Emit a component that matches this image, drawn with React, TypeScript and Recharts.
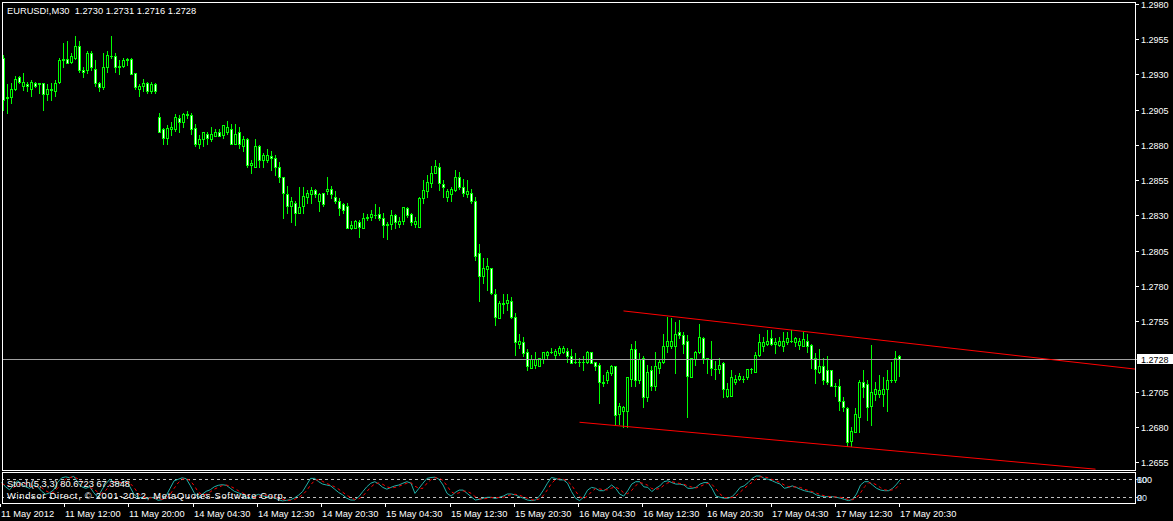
import React from "react";
import { ComposedChart, Bar, Line, XAxis, YAxis, ReferenceLine } from "recharts";

// EURUSD M30 candles, oldest first
const opens = [
  1.2942, 1.2913, 1.2914, 1.292, 1.2928, 1.2922, 1.2923, 1.292, 1.2924, 1.2923, 1.2924, 1.2916, 1.292, 1.2918, 1.2925,
  1.294, 1.2941, 1.2939, 1.2942, 1.295, 1.2933, 1.2933, 1.2945, 1.2934, 1.2924, 1.2921, 1.2935, 1.2943, 1.2943, 1.2935,
  1.2936, 1.294, 1.2941, 1.2931, 1.292, 1.2922, 1.2924, 1.2918, 1.2923, 1.29, 1.2891, 1.2885, 1.2891, 1.2891, 1.2899,
  1.2896, 1.2902, 1.2901, 1.2892, 1.2881, 1.2884, 1.2888, 1.2884, 1.2886, 1.2889, 1.2887, 1.2889, 1.2891, 1.2881, 1.2889,
  1.2879, 1.2884, 1.2866, 1.2864, 1.2879, 1.2869, 1.2869, 1.2872, 1.2871, 1.2864, 1.2857, 1.2845, 1.2837, 1.2839, 1.2832,
  1.2837, 1.2843, 1.2845, 1.2848, 1.284, 1.2846, 1.2847, 1.2849, 1.2843, 1.284, 1.2838, 1.2837, 1.2821, 1.2821, 1.2825,
  1.2821, 1.2828, 1.2829, 1.283, 1.2831, 1.2828, 1.2823, 1.2824, 1.283, 1.2824, 1.2826, 1.2835, 1.2831, 1.2824, 1.2822,
  1.2842, 1.2847, 1.2853, 1.286, 1.2864, 1.2852, 1.2843, 1.2845, 1.2848, 1.2857, 1.285, 1.2845, 1.2846, 1.284, 1.2803,
  1.2787, 1.2792, 1.2793, 1.2774, 1.2757, 1.2767, 1.2768, 1.2769, 1.2758, 1.2739, 1.274, 1.2733, 1.2722, 1.2724, 1.2723,
  1.2728, 1.2731, 1.2733, 1.2731, 1.2732, 1.2733, 1.2734, 1.273, 1.2726, 1.2726, 1.2726, 1.2726, 1.2733, 1.2726, 1.2724,
  1.2712, 1.2713, 1.2718, 1.2723, 1.2689, 1.2691, 1.2691, 1.2714, 1.2735, 1.2713, 1.2729, 1.2701, 1.272, 1.2709, 1.2722,
  1.2726, 1.2737, 1.2737, 1.2737, 1.2747, 1.2745, 1.2741, 1.2715, 1.2728, 1.2733, 1.2743, 1.2729, 1.2728, 1.2721, 1.2721,
  1.2725, 1.2702, 1.2702, 1.2712, 1.2714, 1.2714, 1.2715, 1.2721, 1.2719, 1.2731, 1.2737, 1.2739, 1.2743, 1.2739, 1.2738,
  1.2737, 1.274, 1.2741, 1.274, 1.2738, 1.2737, 1.2741, 1.2738, 1.2729, 1.2719, 1.2723, 1.272, 1.272, 1.2709, 1.2709,
  1.2698, 1.2693, 1.267, 1.2676, 1.2687, 1.2712, 1.271, 1.2695, 1.2703, 1.2703, 1.2703, 1.2707, 1.2713, 1.2713, 1.273,
];
const highs = [
  1.2944, 1.2923, 1.2924, 1.2929, 1.2929, 1.2931, 1.2925, 1.2926, 1.2925, 1.2924, 1.2924, 1.2923, 1.2924, 1.2926, 1.2942,
  1.2952, 1.2954, 1.2945, 1.2957, 1.2954, 1.2935, 1.2947, 1.2947, 1.294, 1.2925, 1.2945, 1.2947, 1.2957, 1.2945, 1.294,
  1.2942, 1.2942, 1.2942, 1.2931, 1.2923, 1.2927, 1.2925, 1.2925, 1.2924, 1.2903, 1.2892, 1.2894, 1.2896, 1.2902, 1.2901,
  1.2903, 1.2904, 1.2903, 1.2895, 1.2887, 1.2889, 1.2889, 1.2893, 1.2891, 1.2891, 1.2894, 1.2897, 1.2895, 1.2895, 1.2893,
  1.2886, 1.2885, 1.2869, 1.2884, 1.288, 1.2874, 1.2877, 1.2876, 1.2873, 1.2868, 1.2857, 1.2851, 1.2843, 1.284, 1.285,
  1.285, 1.2848, 1.285, 1.2849, 1.2846, 1.2846, 1.2857, 1.2851, 1.2847, 1.2842, 1.2839, 1.2839, 1.2826, 1.2827, 1.2827,
  1.2832, 1.2831, 1.2834, 1.2838, 1.2836, 1.2832, 1.2825, 1.2834, 1.2831, 1.2829, 1.2836, 1.2836, 1.2832, 1.2829, 1.2843,
  1.2855, 1.2859, 1.2865, 1.2869, 1.2867, 1.2855, 1.2849, 1.285, 1.2862, 1.2861, 1.2856, 1.2855, 1.2849, 1.2843, 1.281,
  1.28, 1.28, 1.2793, 1.2778, 1.2769, 1.2774, 1.2774, 1.2772, 1.2761, 1.2746, 1.2744, 1.2735, 1.2731, 1.2733, 1.2729,
  1.2733, 1.2734, 1.2736, 1.2735, 1.2737, 1.2737, 1.2736, 1.2735, 1.2732, 1.2729, 1.273, 1.2734, 1.2733, 1.2726, 1.2725,
  1.2717, 1.272, 1.2724, 1.2723, 1.2697, 1.2695, 1.2715, 1.2739, 1.2741, 1.2732, 1.273, 1.2724, 1.2723, 1.2733, 1.2728,
  1.2746, 1.2758, 1.2757, 1.2754, 1.2756, 1.2747, 1.2745, 1.2729, 1.2734, 1.2753, 1.2744, 1.2729, 1.2741, 1.2727, 1.2729,
  1.2726, 1.2711, 1.272, 1.2717, 1.2718, 1.2716, 1.2721, 1.2722, 1.2733, 1.2746, 1.2744, 1.2749, 1.2749, 1.2743, 1.2744,
  1.2747, 1.2747, 1.2749, 1.2744, 1.2743, 1.2747, 1.2746, 1.2739, 1.2732, 1.2735, 1.2729, 1.273, 1.272, 1.2711, 1.2714,
  1.2701, 1.2694, 1.268, 1.2693, 1.2713, 1.272, 1.2713, 1.2738, 1.2712, 1.2717, 1.2715, 1.272, 1.2726, 1.2734, 1.2731,
];
const lows = [
  1.2905, 1.2903, 1.291, 1.2919, 1.2924, 1.2919, 1.2918, 1.2915, 1.2921, 1.2917, 1.2905, 1.2912, 1.2912, 1.2915, 1.2924,
  1.2935, 1.2938, 1.2938, 1.2941, 1.2932, 1.2928, 1.2931, 1.2933, 1.2922, 1.2918, 1.292, 1.2932, 1.2942, 1.2932, 1.293,
  1.2935, 1.2937, 1.293, 1.292, 1.2915, 1.2918, 1.2917, 1.2917, 1.2917, 1.2889, 1.2881, 1.2881, 1.2887, 1.289, 1.2889,
  1.2893, 1.2899, 1.2888, 1.2879, 1.2878, 1.2879, 1.2881, 1.2883, 1.2886, 1.2886, 1.2885, 1.2888, 1.2881, 1.2881, 1.2878,
  1.2876, 1.2864, 1.286, 1.2864, 1.2864, 1.2864, 1.2868, 1.2862, 1.2859, 1.2854, 1.2828, 1.2832, 1.2825, 1.2823, 1.2832,
  1.2832, 1.2839, 1.2839, 1.2843, 1.2833, 1.2837, 1.2845, 1.2842, 1.2839, 1.283, 1.2832, 1.2821, 1.282, 1.2821, 1.2815,
  1.2821, 1.2827, 1.2827, 1.2828, 1.2827, 1.2815, 1.2813, 1.282, 1.2821, 1.2822, 1.2824, 1.2829, 1.2823, 1.2822, 1.2822,
  1.2839, 1.2843, 1.285, 1.286, 1.2848, 1.2843, 1.284, 1.284, 1.2847, 1.2849, 1.2844, 1.2843, 1.2839, 1.2798, 1.2769,
  1.2782, 1.2777, 1.2774, 1.2752, 1.2757, 1.2761, 1.2763, 1.2757, 1.2731, 1.2736, 1.273, 1.272, 1.2722, 1.2722, 1.2723,
  1.2725, 1.2729, 1.2732, 1.2729, 1.2731, 1.2732, 1.2726, 1.2725, 1.2725, 1.2723, 1.272, 1.2725, 1.2725, 1.272, 1.2697,
  1.2709, 1.2711, 1.2717, 1.2681, 1.2682, 1.268, 1.268, 1.2709, 1.2709, 1.2711, 1.2694, 1.2698, 1.2706, 1.2706, 1.2718,
  1.2725, 1.2733, 1.2736, 1.2718, 1.2743, 1.2732, 1.2687, 1.2715, 1.2724, 1.2732, 1.2725, 1.2718, 1.2717, 1.2714, 1.2718,
  1.2701, 1.2701, 1.2702, 1.271, 1.2713, 1.2712, 1.2714, 1.2718, 1.2719, 1.273, 1.2734, 1.2738, 1.2738, 1.2732, 1.2737,
  1.2734, 1.2739, 1.274, 1.2737, 1.2735, 1.2737, 1.2733, 1.2722, 1.2711, 1.2718, 1.271, 1.271, 1.2709, 1.2702, 1.2692,
  1.2691, 1.2666, 1.2666, 1.2676, 1.2676, 1.2701, 1.2685, 1.2681, 1.2699, 1.2701, 1.2695, 1.2691, 1.2712, 1.2712, 1.2716,
];
const closes = [
  1.2912, 1.2914, 1.292, 1.2927, 1.2925, 1.2925, 1.2922, 1.2925, 1.2922, 1.2924, 1.2916, 1.292, 1.2919, 1.2924, 1.294,
  1.2941, 1.2938, 1.2943, 1.295, 1.2933, 1.2932, 1.2945, 1.2935, 1.2924, 1.2921, 1.2935, 1.2944, 1.2943, 1.2935, 1.2936,
  1.294, 1.2941, 1.293, 1.2921, 1.2922, 1.2924, 1.2918, 1.2923, 1.2918, 1.2889, 1.2885, 1.2892, 1.2893, 1.29, 1.2896,
  1.2902, 1.2901, 1.2891, 1.2881, 1.2884, 1.2889, 1.2885, 1.2888, 1.2889, 1.2886, 1.2894, 1.2893, 1.2881, 1.2888, 1.2881,
  1.2884, 1.2866, 1.2867, 1.2879, 1.2869, 1.2873, 1.2873, 1.2871, 1.2864, 1.2857, 1.2846, 1.2837, 1.284, 1.2832, 1.2836,
  1.2844, 1.2846, 1.2848, 1.2845, 1.2845, 1.2838, 1.2849, 1.2845, 1.284, 1.2835, 1.2834, 1.2821, 1.2823, 1.2826, 1.2822,
  1.2828, 1.2829, 1.2831, 1.283, 1.2828, 1.2823, 1.2824, 1.283, 1.2825, 1.2826, 1.2836, 1.283, 1.2825, 1.2826, 1.2842,
  1.2848, 1.2854, 1.286, 1.2865, 1.2853, 1.285, 1.2847, 1.2849, 1.2857, 1.285, 1.2846, 1.2847, 1.284, 1.2801, 1.2787,
  1.2793, 1.2794, 1.2775, 1.2758, 1.2768, 1.2768, 1.277, 1.2758, 1.274, 1.2741, 1.2732, 1.2723, 1.2728, 1.2728, 1.2729,
  1.2733, 1.2733, 1.2733, 1.2734, 1.2736, 1.2736, 1.273, 1.2725, 1.2726, 1.2726, 1.2726, 1.2733, 1.2725, 1.2723, 1.2712,
  1.2711, 1.2719, 1.2723, 1.2688, 1.2695, 1.2694, 1.2715, 1.2735, 1.2713, 1.2728, 1.2701, 1.2719, 1.2709, 1.2723, 1.2726,
  1.2737, 1.2741, 1.2741, 1.2746, 1.2745, 1.2739, 1.2716, 1.2729, 1.2733, 1.2744, 1.2729, 1.2728, 1.2722, 1.2721, 1.2724,
  1.2707, 1.2707, 1.2715, 1.2714, 1.2716, 1.2714, 1.2721, 1.2721, 1.2731, 1.274, 1.274, 1.2741, 1.2739, 1.274, 1.2741,
  1.2741, 1.2743, 1.2741, 1.2743, 1.2741, 1.2742, 1.2737, 1.2728, 1.2721, 1.2723, 1.2713, 1.2712, 1.2709, 1.2709, 1.2698,
  1.2694, 1.2669, 1.2677, 1.2689, 1.2712, 1.2708, 1.2694, 1.2705, 1.2707, 1.2706, 1.2707, 1.2713, 1.2713, 1.2729, 1.2728,
];

// Stochastic(5,3,3): main (%K) and signal (%D)
const stochMain = [
  70, 55, 45, 60, 75, 65, 55, 50, 60, 55, 40, 30, 35, 45, 70,
  85, 88, 85, 90, 70, 55, 50, 55, 35, 20, 45, 65, 80, 70, 65,
  70, 75, 55, 30, 18, 20, 15, 20, 18, 10, 12, 25, 50, 75, 80,
  85, 82, 60, 35, 20, 30, 40, 45, 55, 60, 62, 60, 50, 40, 35,
  30, 20, 15, 25, 30, 25, 22, 20, 18, 12, 8, 10, 12, 18, 27,
  39, 61, 83, 83, 72, 64, 61, 58, 47, 36, 28, 17, 11, 11, 22,
  39, 55, 67, 72, 64, 53, 47, 53, 58, 61, 67, 72, 67, 33, 50,
  67, 83, 86, 87, 80, 61, 33, 24, 36, 44, 44, 33, 22, 11, 13,
  17, 20, 20, 16, 20, 24, 31, 31, 28, 22, 17, 11, 9, 11, 24,
  44, 67, 86, 83, 78, 78, 67, 39, 17, 9, 20, 44, 53, 50, 42,
  42, 50, 61, 50, 31, 24, 42, 64, 72, 72, 55, 53, 39, 50, 58,
  72, 75, 69, 64, 64, 61, 50, 50, 53, 64, 69, 69, 50, 24, 20,
  17, 17, 22, 36, 53, 58, 69, 83, 91, 91, 83, 80, 75, 69, 64,
  50, 53, 58, 53, 47, 42, 39, 36, 28, 24, 22, 22, 22, 20, 17,
  13, 9, 13, 31, 61, 72, 72, 61, 50, 44, 42, 42, 50, 64, 80.67,
];
const stochSignal = [
  65, 62, 57, 53, 60, 67, 65, 57, 55, 55, 52, 42, 35, 37, 50,
  67, 81, 86, 88, 82, 72, 58, 53, 47, 37, 33, 43, 63, 72, 72,
  68, 70, 67, 53, 34, 23, 18, 18, 18, 16, 13, 16, 29, 50, 68,
  80, 82, 76, 59, 38, 28, 30, 38, 47, 53, 59, 61, 57, 50, 42,
  35, 28, 22, 20, 23, 27, 26, 22, 20, 17, 13, 10, 10, 13, 19,
  28, 42, 61, 76, 79, 73, 66, 61, 55, 47, 37, 27, 19, 13, 15,
  24, 39, 54, 65, 68, 63, 55, 51, 53, 57, 62, 67, 69, 57, 50,
  50, 67, 79, 85, 84, 76, 58, 39, 31, 35, 41, 40, 33, 22, 15,
  14, 17, 19, 19, 19, 20, 25, 29, 30, 27, 22, 17, 12, 10, 15,
  26, 45, 66, 79, 82, 80, 74, 61, 41, 22, 15, 24, 39, 49, 48,
  45, 45, 51, 54, 47, 35, 32, 43, 59, 69, 66, 60, 49, 47, 49,
  60, 68, 72, 69, 66, 63, 58, 54, 51, 56, 62, 67, 63, 48, 31,
  20, 18, 19, 25, 37, 49, 60, 70, 81, 88, 88, 85, 79, 75, 69,
  61, 56, 54, 55, 53, 47, 43, 39, 34, 29, 25, 23, 22, 21, 20,
  17, 13, 12, 18, 35, 55, 68, 68, 61, 52, 45, 43, 45, 52, 67.38,
];

const priceTicks = [
  1.298, 1.2955, 1.293, 1.2905, 1.288, 1.2855, 1.283, 1.2805, 1.278, 1.2755, 1.2728, 1.2705, 1.268, 1.2655,
];
const lastPrice = 1.2728;

const timeTickIdx = [0, 16, 32, 48, 64, 80, 96, 112, 128, 144, 160, 176, 192, 208, 224];
const timeLabels = [
  "11 May 2012", "11 May 12:00", "11 May 20:00", "14 May 04:30", "14 May 12:30",
  "14 May 20:30", "15 May 04:30", "15 May 12:30", "15 May 20:30", "16 May 04:30",
  "16 May 12:30", "16 May 20:30", "17 May 04:30", "17 May 12:30", "17 May 20:30",
];

// hand drawn channel (bar index, price)
const upperChannel = [{ x: 155, y: 1.27622 }, { x: 283, y: 1.27209 }];
const lowerChannel = [{ x: 144, y: 1.26832 }, { x: 273, y: 1.26499 }];

const stochLevels = [80, 20];
const stochBounds = ["100", "0"];

const headerText = "EURUSD!,M30  1.2730 1.2731 1.2716 1.2728";
const stochText = "Stoch(5,3,3) 80.6723 67.3848";
const copyrightText = "Windsor Direct, \u00a9 2001-2012, MetaQuotes Software Corp.";

const SLOTS = 284; // chart shift leaves empty bars on the right
const PRICE_MIN = 1.264932;
const PRICE_MAX = 1.298284;
const FONT = "'Liberation Sans', Arial, sans-serif";
const LIME = "#00ff00";

const rows = Array.from({ length: SLOTS }, (_, i) =>
  i < closes.length
    ? {
        i,
        range: [lows[i], highs[i]],
        o: opens[i],
        h: highs[i],
        l: lows[i],
        c: closes[i],
        k: stochMain[i],
        d: stochSignal[i],
      }
    : { i, range: null, k: null, d: null }
);

function Candle(props: any) {
  const { x, y, width, height, payload } = props;
  if (!payload || payload.h == null) return <g />;
  const top = Math.min(y, y + height);
  const bot = Math.max(y, y + height);
  const span = payload.h - payload.l;
  const at = (p: number) => (span > 0 ? top + ((payload.h - p) / span) * (bot - top) : top);
  const cx = Math.floor(x + width / 2);
  const yH = Math.round(top);
  const yL = Math.round(bot);
  const yO = Math.round(at(payload.o));
  const yC = Math.round(at(payload.c));
  const bTop = Math.min(yO, yC);
  const bBot = Math.max(yO, yC);
  const up = payload.c >= payload.o;
  return (
    <g shapeRendering="crispEdges">
      <rect x={cx} y={yH} width={1} height={Math.max(1, yL - yH + 1)} fill={LIME} />
      <rect x={cx - 1} y={bTop} width={3} height={bBot - bTop + 1} fill={LIME} />
      {bBot - bTop >= 2 && (
        <rect x={cx} y={bTop + 1} width={1} height={bBot - bTop - 1} fill={up ? "#000" : "#fff"} />
      )}
    </g>
  );
}

function PriceTick(props: any) {
  const { y, payload } = props;
  const v = payload.value as number;
  const ty = Math.round(y);
  if (v === lastPrice) {
    return (
      <g>
        <rect x={1137} y={ty - 5} width={36} height={10} fill="#fff" />
        <text x={1141} y={ty + 3.5} fill="#000" fontSize={9} fontFamily={FONT}>
          {v.toFixed(4)}
        </text>
      </g>
    );
  }
  return (
    <g>
      <rect x={1136} y={ty} width={3} height={1} fill="#fff" />
      <text x={1141} y={ty + 3.5} fill="#fff" fontSize={9} fontFamily={FONT}>
        {v.toFixed(4)}
      </text>
    </g>
  );
}

function StochTick(props: any) {
  const { y, payload } = props;
  const k = stochLevels.indexOf(payload.value);
  return (
    <g fontSize={9} fontFamily={FONT}>
      <text x={1137} y={y + 3.5} fill="#fff">{stochBounds[k]}</text>
      <text x={1137} y={y + 3.5} fill="#cfe0ff">{payload.value}</text>
    </g>
  );
}

function TimeTick(props: any) {
  const { x, payload } = props;
  const k = timeTickIdx.indexOf(payload.value);
  const col = Math.floor(x) - 1;
  return (
    <g>
      <rect x={col} y={34} width={1} height={3} fill="#fff" />
      <text x={col + 1} y={46.5} fill="#fff" fontSize={9.3} fontFamily={FONT}>
        {timeLabels[k]}
      </text>
    </g>
  );
}

export default function App() {
  return (
    <div style={{ position: "relative", width: 1173, height: 521, background: "#000", overflow: "hidden" }}>
      <style>{"body{margin:0;background:#000}"}</style>
      <div style={{ position: "absolute", left: 0, top: 0 }}>
        <ComposedChart
          width={1173}
          height={470}
          data={rows}
          margin={{ top: 0, right: 0, bottom: 0, left: 1.5 }}
          barCategoryGap={0}
          barGap={0}
        >
          <XAxis dataKey="i" hide />
          <YAxis
            orientation="right"
            width={35.5}
            domain={[PRICE_MIN, PRICE_MAX]}
            allowDataOverflow
            ticks={priceTicks}
            interval={0}
            axisLine={false}
            tickLine={false}
            tick={(p: any) => <PriceTick {...p} />}
          />
          <ReferenceLine y={lastPrice} stroke="#a0a0a0" shapeRendering="crispEdges" />
          <Bar dataKey="range" shape={(p: any) => <Candle {...p} />} isAnimationActive={false} />
          <ReferenceLine segment={upperChannel} stroke="#ff0000" strokeWidth={1} ifOverflow="visible" />
          <ReferenceLine segment={lowerChannel} stroke="#ff0000" strokeWidth={1} ifOverflow="visible" />
        </ComposedChart>
      </div>
      <div style={{ position: "absolute", left: 0, top: 470 }}>
        <ComposedChart
          width={1173}
          height={51}
          data={rows}
          margin={{ top: 3.3, right: 0, bottom: 0, left: 1.5 }}
        >
          <XAxis
            dataKey="i"
            ticks={timeTickIdx}
            interval={0}
            height={17.7}
            axisLine={false}
            tickLine={false}
            tick={(p: any) => <TimeTick {...p} />}
          />
          <YAxis
            orientation="right"
            width={35.5}
            domain={[0, 100]}
            ticks={stochLevels}
            interval={0}
            axisLine={false}
            tickLine={false}
            tick={(p: any) => <StochTick {...p} />}
          />
          <ReferenceLine y={80} stroke="#c0c0c0" strokeDasharray="3 3" shapeRendering="crispEdges" />
          <ReferenceLine y={20} stroke="#c0c0c0" strokeDasharray="3 3" shapeRendering="crispEdges" />
          <Line
            dataKey="k"
            type="linear"
            stroke="#20b2aa"
            strokeWidth={1}
            dot={false}
            isAnimationActive={false}
          />
          <Line
            dataKey="d"
            type="linear"
            stroke="#ff0000"
            strokeWidth={1}
            strokeDasharray="3 3"
            dot={false}
            isAnimationActive={false}
          />
        </ComposedChart>
      </div>
      <svg
        width={1173}
        height={521}
        style={{ position: "absolute", left: 0, top: 0, pointerEvents: "none" }}
      >
        <g fill="none" stroke="#fff" strokeWidth={1} shapeRendering="crispEdges">
          <rect x={2.5} y={2.5} width={1133} height={468} />
          <rect x={2.5} y={472.5} width={1133} height={31} />
        </g>
        <g fill="#fff" fontSize={9.3} fontFamily={FONT} style={{ whiteSpace: "pre" }}>
          <text x={7} y={14} xmlSpace="preserve">{headerText}</text>
          <text x={7} y={486.5}>{stochText}</text>
          <text x={7} y={499} textLength={279} lengthAdjust="spacing">{copyrightText}</text>
        </g>
      </svg>
    </div>
  );
}
